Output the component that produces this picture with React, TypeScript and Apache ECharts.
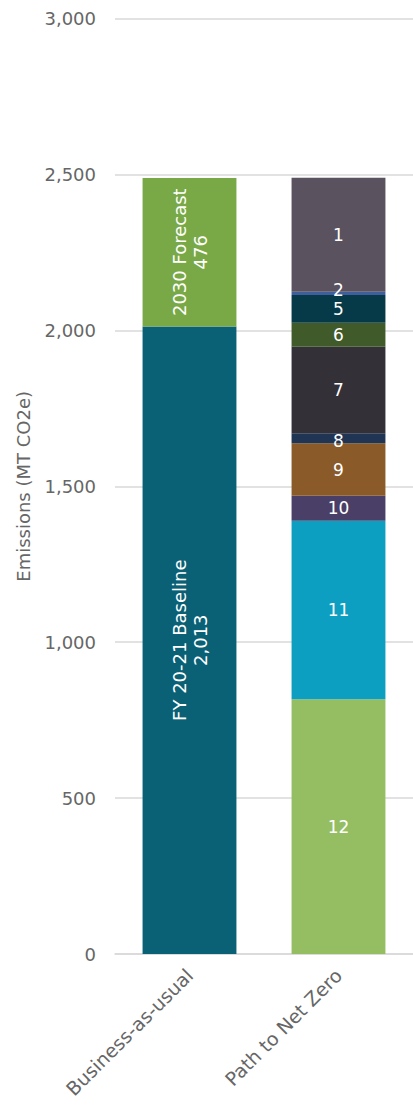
import React, { useEffect, useRef } from "react";
import * as echarts from "echarts";

const categories = ["Business-as-usual", "Path to Net Zero"];
const bauNames = ["FY 20-21 Baseline", "2030 Forecast"];
const bauValues = [2013, 476];
const bauColors = ["#0a6075", "#79a947"];
const pathNames = ["12", "11", "10", "9", "8", "7", "6", "5", "2", "1"];
const pathValues = [817, 573, 80, 168, 32, 278, 77, 89, 10, 366];
const pathColors = ["#95be63", "#0c9fc2", "#4a3f67", "#8a5a29", "#1f3553", "#343037", "#405a29", "#073a49", "#3f5f9c", "#5a525e"];
const yTicks = [0, 500, 1000, 1500, 2000, 2500, 3000];

const FONT = "'DejaVu Sans', sans-serif";
const TEXT = "#666666";

export default function App() {
  const ref = useRef<HTMLDivElement>(null);
  useEffect(() => {
    if (!ref.current) return;
    const chart = echarts.init(ref.current, undefined, { renderer: "svg" });
    const series: any[] = [];
    bauNames.forEach((n, i) => {
      series.push({
        name: n,
        type: "bar",
        stack: "total",
        barWidth: "63%",
        data: [bauValues[i], "-"],
        itemStyle: { color: bauColors[i] },
        label: {
          show: true,
          position: "inside",
          rotate: 90,
          color: "#ffffff",
          fontSize: 18,
          fontFamily: FONT,
          lineHeight: 21,
          formatter: (p: any) => `${n}\n${Number(p.value).toLocaleString("en-US")}`,
        },
      });
    });
    pathNames.forEach((n, i) => {
      const offset = n === "2" ? [0, -3] : n === "8" ? [0, 3] : [0, 0];
      series.push({
        name: n,
        type: "bar",
        stack: "total",
        barWidth: "63%",
        data: ["-", pathValues[i]],
        itemStyle: { color: pathColors[i] },
        label: {
          show: true,
          position: "inside",
          offset,
          color: "#ffffff",
          fontSize: 17,
          lineHeight: 17,
          fontFamily: FONT,
          formatter: () => n,
        },
      });
    });
    chart.setOption({
      animation: false,
      grid: { left: 115, right: 0, top: 18.7, bottom: 153, containLabel: false, outerBoundsMode: "none" },
      xAxis: {
        type: "category",
        data: categories,
        axisLine: { show: true, lineStyle: { color: "#d9d9d9", width: 1.5 } },
        axisTick: { show: false },
        axisLabel: { rotate: 45, color: TEXT, fontSize: 19, fontFamily: FONT, margin: 18 },
      },
      yAxis: {
        type: "value",
        min: yTicks[0],
        max: yTicks[yTicks.length - 1],
        interval: 500,
        name: "Emissions (MT CO2e)",
        nameLocation: "middle",
        nameGap: 83,
        nameTextStyle: { color: TEXT, fontSize: 18, fontFamily: FONT },
        axisLine: { show: false },
        axisTick: { show: false },
        splitLine: { lineStyle: { color: "#d9d9d9", width: 1.5 } },
        axisLabel: {
          color: TEXT,
          fontSize: 18,
          fontFamily: FONT,
          margin: 19,
          formatter: (v: number) => v.toLocaleString("en-US"),
        },
      },
      series,
    });
    return () => chart.dispose();
  }, []);
  return (
    <div
      ref={ref}
      style={{ position: "fixed", left: 0, top: 0, width: 413, height: 1107, background: "#ffffff" }}
    />
  );
}
